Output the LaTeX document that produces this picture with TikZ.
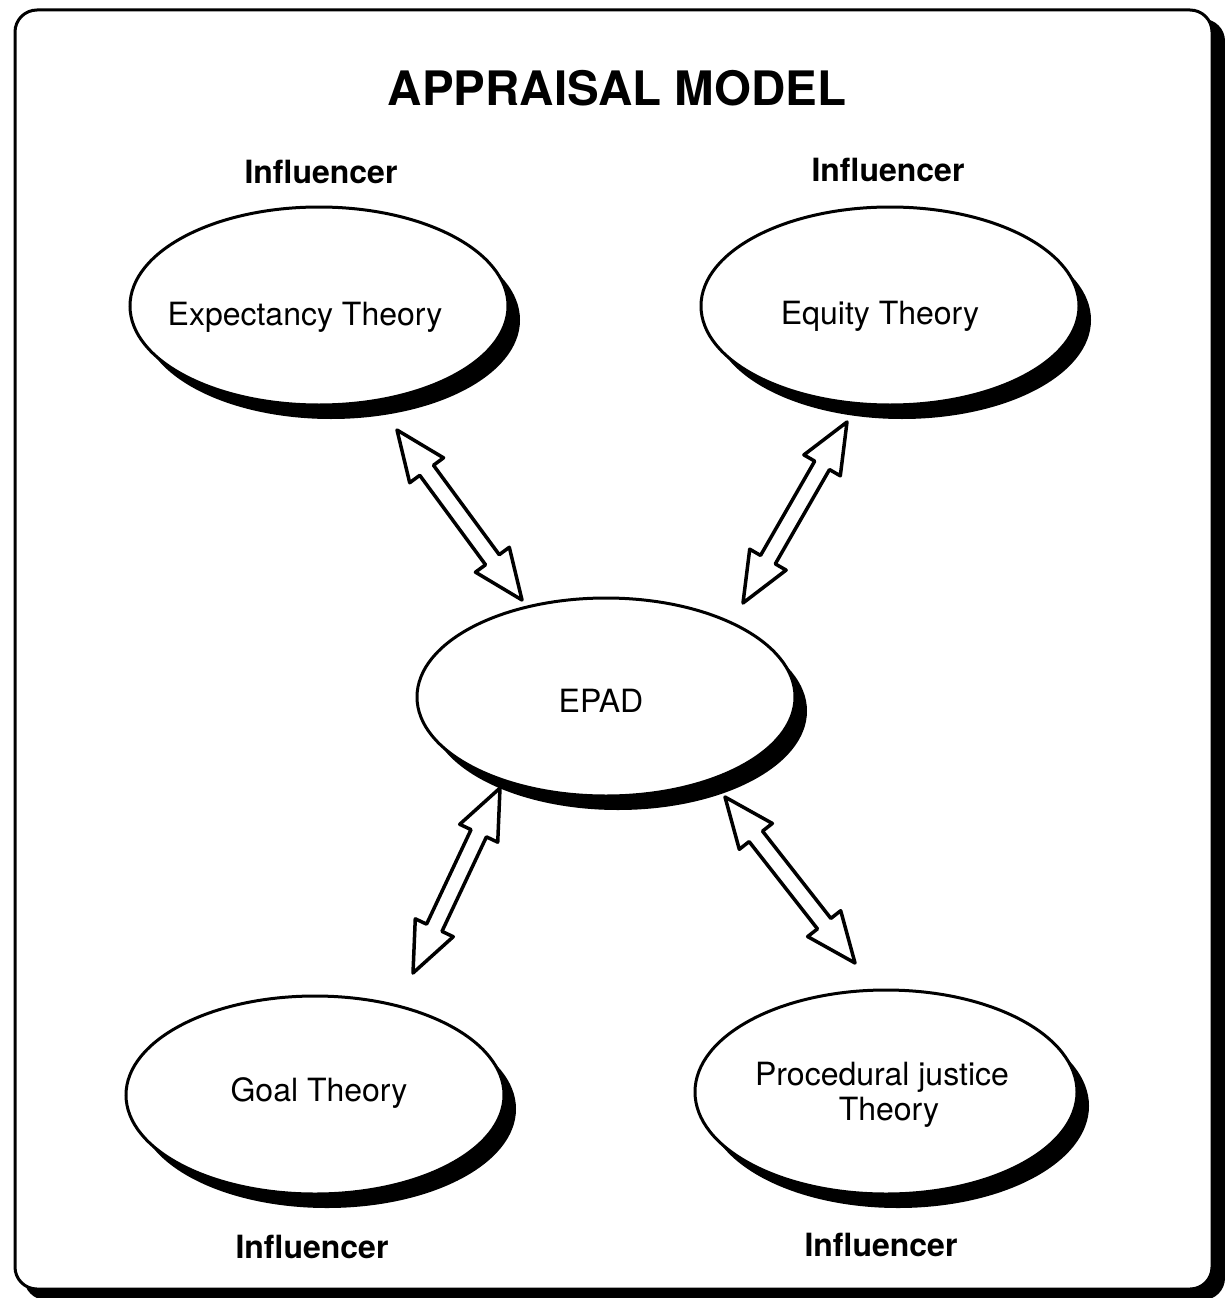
\documentclass[tikz,border=0pt]{standalone}
\usepackage{fontspec}
\setmainfont{TeX Gyre Heros}
\usetikzlibrary{shapes.geometric,shadows,calc}

% double-headed hollow block arrow between two tip coordinates
\newcommand\blockarrow[3]{%
  \path ($(#1)!50pt!(#2)$) coordinate (#3-h1)
        ($(#2)!50pt!(#1)$) coordinate (#3-h2);
  \draw[arrowline] (#1)
    -- ($(#3-h1)!21pt!90:(#2)$) -- ($(#3-h1)!8.5pt!90:(#2)$)
    -- ($(#3-h2)!8.5pt!-90:(#1)$) -- ($(#3-h2)!21pt!-90:(#1)$)
    -- (#2)
    -- ($(#3-h2)!21pt!90:(#1)$) -- ($(#3-h2)!8.5pt!90:(#1)$)
    -- ($(#3-h1)!8.5pt!-90:(#2)$) -- ($(#3-h1)!21pt!-90:(#2)$)
    -- cycle;
}

\begin{document}
\begin{tikzpicture}[x=1pt,y=-1pt,
  theory/.style={ellipse, draw=black, fill=white, line width=3pt,
    minimum width=378pt, minimum height=198pt, inner sep=0pt,
    drop shadow={shadow xshift=12pt, shadow yshift=-14pt, fill=black, opacity=1}},
  label/.style={anchor=base, font=\fontsize{32}{35}\selectfont, inner sep=0pt},
  influ/.style={anchor=base, font=\fontsize{32}{35}\selectfont\bfseries, inner sep=0pt},
  arrowline/.style={draw=black, fill=white, line width=3.5pt, line join=round}]

\useasboundingbox (0,0) rectangle (1225,1298);

% frame with its shadow
\fill[black, rounded corners=22pt] (24,19) rectangle (1225,1300);
\draw[line width=3pt, fill=white, rounded corners=22pt] (15,10) rectangle (1212,1289);

% title
\node[anchor=base, inner sep=0pt, font=\fontsize{47.5}{52}\selectfont\bfseries]
  (title) at (617,105) {APPRAISAL MODEL};

% theory ellipses
\node[theory] (exp)  at (319,306) {};
\node[theory] (eq)   at (890,306) {};
\node[theory] (epad) at (606,697) {};
\node[theory] (goal) at (315,1095) {};
\node[theory, minimum width=382pt, minimum height=204pt] (proc) at (886,1092) {};

% ellipse texts
\node[label] (expT)   at (305,325)  {Expectancy Theory};
\node[label] (eqT)    at (880,324)  {Equity Theory};
\node[label] (epadT)  at (601,712)  {EPAD};
\node[label] (goalT)  at (319,1101) {Goal Theory};
\node[label] (procT1) at (882,1085) {Procedural justice};
\node[label] (procT2) at (889,1120) {Theory};

% influencer labels
\node[influ] (inf1) at (321,183)  {Influencer};
\node[influ] (inf2) at (888,181)  {Influencer};
\node[influ] (inf3) at (312,1258) {Influencer};
\node[influ] (inf4) at (881,1256) {Influencer};

% arrow tips
\coordinate (a1s) at (397,430);  \coordinate (a1e) at (522,600);
\coordinate (a2s) at (847,422);  \coordinate (a2e) at (743,603);
\coordinate (a3s) at (500,788);  \coordinate (a3e) at (413,973);
\coordinate (a4s) at (725,797);  \coordinate (a4e) at (855,963);

\blockarrow{a1s}{a1e}{ar1}
\blockarrow{a2s}{a2e}{ar2}
\blockarrow{a3s}{a3e}{ar3}
\blockarrow{a4s}{a4e}{ar4}

\end{tikzpicture}
\end{document}
